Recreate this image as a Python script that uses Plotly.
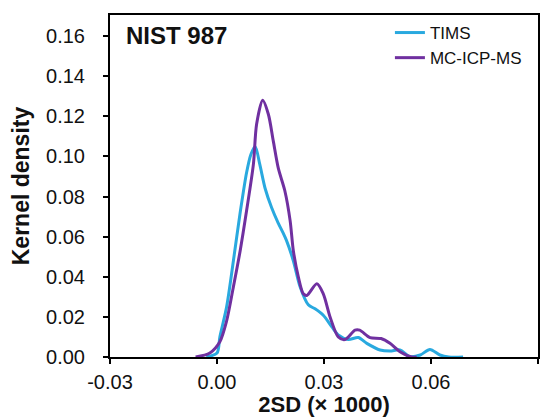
import plotly.graph_objects as go

# values
tims_x = [-0.003, 0.0, 0.0008, 0.0027, 0.0046, 0.0065, 0.0083, 0.0095, 0.0107, 0.012,
          0.0135, 0.0153, 0.0171, 0.0185, 0.0195, 0.0214, 0.0233, 0.0256, 0.0275, 0.0298,
          0.0322, 0.034, 0.0368, 0.0396, 0.042, 0.0457, 0.0485, 0.0513, 0.054, 0.057,
          0.0597, 0.0625, 0.065, 0.069]
tims_y = [0.0, 0.002, 0.010, 0.025, 0.048, 0.072, 0.092, 0.101, 0.105, 0.096,
          0.084, 0.0745, 0.067, 0.062, 0.058, 0.048, 0.035, 0.026, 0.024, 0.0208,
          0.015, 0.011, 0.0087, 0.0097, 0.0068, 0.0035, 0.003, 0.0035, 0.0002, 0.001,
          0.0038, 0.001, 0.0, 0.0]

icp_x = [-0.006, -0.002, 0.0008, 0.0027, 0.0046, 0.0065, 0.0083, 0.0102, 0.0111, 0.0128,
         0.0144, 0.0158, 0.0172, 0.019, 0.0205, 0.0214, 0.0228, 0.0242, 0.0252, 0.028,
         0.0298, 0.0317, 0.034, 0.0359, 0.0387, 0.040, 0.0429, 0.046, 0.0485, 0.0513,
         0.0546, 0.056]
icp_y = [0.0, 0.002, 0.0076, 0.018, 0.035, 0.053, 0.073, 0.096, 0.116, 0.128,
         0.121, 0.1075, 0.094, 0.083, 0.068, 0.053, 0.040, 0.0315, 0.0307, 0.0365,
         0.0315, 0.020, 0.010, 0.0087, 0.0134, 0.0134, 0.0097, 0.0092, 0.0068, 0.0026,
         0.0, 0.0]

x_ticks = [-0.03, 0.0, 0.03, 0.06, 0.09]
x_labels = ["-0.03", "0.00", "0.03", "0.06", "0.09"]
y_ticks = [0.0, 0.02, 0.04, 0.06, 0.08, 0.10, 0.12, 0.14, 0.16]

font = "Liberation Sans, Arial, sans-serif"

fig = go.Figure()
fig.add_trace(go.Scatter(
    x=tims_x, y=tims_y, mode="lines", name="TIMS",
    line=dict(color="#29A9DF", width=3, shape="spline", smoothing=0.8),
))
fig.add_trace(go.Scatter(
    x=icp_x, y=icp_y, mode="lines", name="MC-ICP-MS",
    line=dict(color="#7030A0", width=3, shape="spline", smoothing=0.8),
))

# page body has an 8px default margin, so size the figure to fit the window
fig.update_layout(
    width=547,
    height=409,
    margin=dict(l=102, r=17, t=5, b=60),
    paper_bgcolor="white",
    plot_bgcolor="white",
    font=dict(family=font, size=20, color="#111"),
    showlegend=True,
    legend=dict(
        x=0.654, y=1.0, xanchor="left", yanchor="top",
        bgcolor="rgba(0,0,0,0)", font=dict(size=17),
        tracegroupgap=0,
    ),
    annotations=[dict(
        text="<b>NIST 987</b>", x=0.033, y=0.985, xref="paper", yref="paper",
        xanchor="left", yanchor="top", showarrow=False, font=dict(size=24),
    )],
)
fig.update_xaxes(
    range=[-0.03, 0.09], tickvals=x_ticks, ticktext=x_labels,
    showline=True, linecolor="black", linewidth=2, mirror=True,
    ticks="outside", ticklen=5, tickwidth=2, tickcolor="black",
    showgrid=False, zeroline=False, ticklabelstandoff=1,
    title=dict(text="<b>2SD (× 1000)</b>", font=dict(size=22), standoff=0),
)
fig.update_yaxes(
    range=[0, 0.1705], tickvals=y_ticks, tickformat=".2f",
    showline=True, linecolor="black", linewidth=2, mirror=True,
    ticks="outside", ticklen=5, tickwidth=2, tickcolor="black",
    showgrid=False, zeroline=False, ticklabelstandoff=14,
    title=dict(text="<b>Kernel density</b>", font=dict(size=23), standoff=12),
)

fig.write_html("out.html")
